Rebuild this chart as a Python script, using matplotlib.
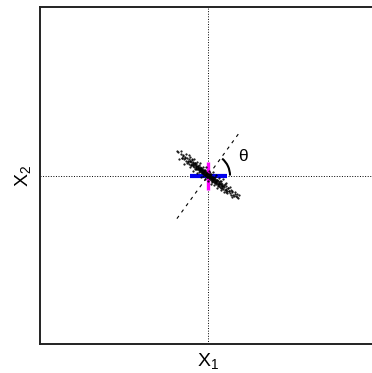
import numpy as np
import matplotlib.pyplot as plt
from matplotlib.patches import Arc

plt.rcParams['font.family'] = ['Liberation Sans', 'DejaVu Sans']
plt.rcParams['mathtext.fontset'] = 'custom'
plt.rcParams['mathtext.rm'] = 'Liberation Sans'
plt.rcParams['mathtext.it'] = 'Liberation Sans:italic'

# nube de puntos (x1, x2)
x1 = [-1.85, -1.62, -1.55, -1.48, -1.40, -1.35, -1.30, -1.26, -1.20, -1.15,
      -1.12, -1.08, -1.05, -1.03, -1.00, -0.97, -0.94, -0.90, -0.88, -0.85,
      -0.82, -0.80, -0.77, -0.74, -0.72, -0.70, -0.67, -0.65, -0.62, -0.60,
      -0.58, -0.55, -0.53, -0.50, -0.48, -0.46, -0.44, -0.42, -0.40, -0.38,
      -0.36, -0.34, -0.32, -0.30, -0.28, -0.26, -0.24, -0.22, -0.20, -0.18,
      -0.16, -0.14, -0.12, -0.10, -0.08, -0.06, -0.04, -0.02, 0.00, 0.02,
      0.04, 0.06, 0.08, 0.10, 0.12, 0.14, 0.16, 0.18, 0.20, 0.22,
      0.24, 0.26, 0.28, 0.30, 0.32, 0.34, 0.36, 0.38, 0.40, 0.42,
      0.44, 0.46, 0.48, 0.50, 0.53, 0.55, 0.58, 0.60, 0.62, 0.65,
      0.67, 0.70, 0.72, 0.75, 0.78, 0.80, 0.83, 0.86, 0.90, 0.93,
      0.97, 1.00, 1.05, 1.10, 1.15, 1.20, 1.25, 1.30, 1.36, 1.42,
      1.50, 1.58, 1.66, 1.78, -0.30, 0.25, -0.15, 0.10, 0.50, -0.50,
      0.35, -0.25, 0.05, -0.05, 0.15, -0.10, 0.30, -0.35, 0.45, -0.45,
      0.65, -0.70, 0.85, -0.90, 1.10, 1.45, 1.72,
      -1.80, -1.70, -1.62, -1.55, -1.48, -1.42, -1.36, -1.30, -1.25, -1.20,
      -1.15, -1.10, -1.05, -1.00, -0.96, -0.92, -0.88, -0.84, -0.80, -0.76,
      -0.72, -0.68, -0.64, -0.60, -0.56, -0.52, -0.48, -0.44, -0.40, -0.36,
      -0.32, -0.28, -0.24, -0.20, -0.16, -0.12, -0.08, -0.04, 0.00, 0.04,
      0.08, 0.12, 0.16, 0.20, 0.24, 0.28, 0.32, 0.36, 0.40, 0.44,
      0.48, 0.52, 0.56, 0.60, 0.64, 0.68, 0.72, 0.76, 0.80, 0.84,
      0.88, 0.92, 0.96, 1.00, 1.05, 1.10, 1.15, 1.20, 1.26, 1.32,
      1.38, 1.45, 1.52, 1.60, 1.70, 1.82]
x2 = [1.45, 1.25, 1.02, 1.18, 0.95, 1.10, 0.88, 1.02, 0.80, 0.95,
      0.70, 0.86, 1.10, 0.78, 0.62, 0.92, 0.70, 0.58, 0.80, 0.66,
      0.50, 0.72, 0.60, 0.45, 0.66, 0.52, 0.40, 0.58, 0.48, 0.36,
      0.55, 0.42, 0.30, 0.48, 0.38, 0.26, 0.44, 0.32, 0.20, 0.38,
      0.28, 0.15, 0.34, 0.22, 0.12, 0.30, 0.18, 0.06, 0.26, 0.14,
      0.02, 0.20, 0.10, -0.02, 0.16, 0.06, -0.06, 0.10, 0.00, -0.10,
      0.06, -0.04, -0.16, 0.02, -0.08, -0.20, -0.02, -0.12, -0.26, -0.06,
      -0.18, -0.30, -0.10, -0.22, -0.34, -0.14, -0.28, -0.38, -0.18, -0.32,
      -0.44, -0.24, -0.36, -0.48, -0.28, -0.42, -0.54, -0.34, -0.48, -0.60,
      -0.38, -0.52, -0.66, -0.44, -0.58, -0.72, -0.50, -0.64, -0.78, -0.56,
      -0.70, -0.84, -0.64, -0.80, -0.94, -0.74, -0.90, -1.05, -0.86, -1.00,
      -1.14, -0.98, -1.20, -1.32, 0.15, -0.20, 0.05, -0.10, -0.40, 0.35,
      -0.20, 0.25, -0.05, 0.02, -0.12, 0.12, -0.18, 0.30, -0.30, 0.40,
      -0.45, 0.55, -0.60, 0.62, -1.00, -1.25, -1.10,
      1.41, 0.99, 1.43, 1.04, 1.24, 0.69, 1.05, 1.26, 0.73, 0.89,
      1.21, 0.52, 0.89, 0.65, 0.97, 0.29, 0.72, 0.99, 0.36, 0.73,
      0.40, 0.83, 0.15, 0.47, 0.64, 0.21, 0.74, -0.09, 0.43, 0.20,
      0.52, -0.05, 0.27, -0.21, 0.31, 0.53, -0.09, 0.08, -0.30, 0.27,
      -0.11, 0.07, -0.51, 0.11, -0.37, 0.20, -0.22, -0.55, -0.08, -0.41,
      0.01, -0.76, -0.29, -0.62, -0.15, -0.53, -0.35, -0.88, -0.31, -0.74,
      -0.22, -0.64, -0.97, -0.50, -0.84, -0.47, -1.06, -0.74, -0.93, -0.67,
      -1.17, -0.92, -1.21, -1.07, -1.29, -1.17]

# componentes y eje
azul_x = [-1.07, 1.13]
azul_y = [0.0, 0.0]
mag_x = [0.0, 0.0]
mag_y = [0.79, -0.85]
eje_x = [-1.85, 1.85]
eje_y = [-2.56, 2.52]

fig = plt.figure(figsize=(3.72, 3.73), dpi=100)
ax = fig.add_axes([40/372, 29/373, 336/372, 337/373])

ax.axvline(0, color='k', ls=':', lw=0.7)
ax.axhline(0, color='k', ls=':', lw=0.7)
ax.plot(eje_x, eje_y, color='k', lw=0.8, dashes=(3, 4))
ax.plot(azul_x, azul_y, color='#0000ee', lw=3.0, solid_capstyle='butt')
ax.plot(mag_x, mag_y, color='#ff00ff', lw=2.4, solid_capstyle='butt')
ax.plot(x1, x2, 'k.', markersize=1.1)

ax.add_patch(Arc((0, 0), 2.62, 2.62, theta1=0, theta2=50, color='k', lw=1.5))
ax.text(2.05, 1.15, 'θ', fontsize=12.5, ha='center', va='center')

ax.set_xlim(-10, 10)
ax.set_ylim(-10, 10)
ax.set_xticks([])
ax.set_yticks([])
for s in ax.spines.values():
    s.set_linewidth(1.4)
    s.set_color('#222222')
ax.spines['right'].set_visible(False)
ax.set_xlabel(r'X$_1$', fontsize=14, labelpad=5)
ax.set_ylabel(r'X$_2$', fontsize=14, labelpad=5)

plt.savefig('out.png', dpi=100)
